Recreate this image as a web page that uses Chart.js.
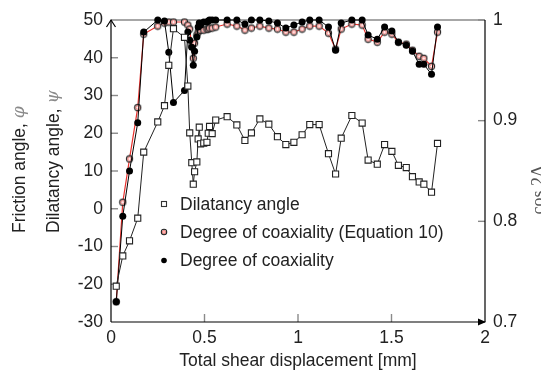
<!DOCTYPE html>
<html>
<head>
<meta charset="UTF-8">
<title>Coaxiality and dilatancy</title>
<script src="https://cdn.jsdelivr.net/npm/chart.js"></script>
<style>
  body { margin: 0; background: #fff; }
</style>
</head>
<body>
<canvas id="chart" width="541" height="372"></canvas>

<script>
    // values
    const displacement = [0.028, 0.063, 0.099, 0.143, 0.175, 0.250, 0.286, 0.309, 0.334, 0.393, 0.411,
        0.421, 0.432, 0.440, 0.447, 0.459, 0.466, 0.472, 0.479, 0.496, 0.513, 0.520, 0.527, 0.541, 0.560,
        0.621, 0.673, 0.716, 0.751, 0.796, 0.844, 0.890, 0.935, 0.978, 1.022, 1.063, 1.113,
        1.163, 1.201, 1.231, 1.288, 1.343, 1.375, 1.424, 1.463, 1.502, 1.537, 1.579, 1.612, 1.648, 1.673, 1.714, 1.746];

    const dilatancy = [-20.5, -12.5, -8.5, -2.5, 15.0, 23.0, 27.3, 38.0, 47.7, 45.4, 32.5,
        20.1, 12.2, 6.5, 9.8, 12.4, 18.5, 21.6, 17.2, 17.4, 17.6, 20.0, 21.8, 19.9, 23.5,
        24.4, 22.2, 18.1, 20.1, 23.8, 22.4, 19.1, 17.0, 17.6, 19.6, 22.3, 22.3,
        14.6, 9.2, 18.7, 24.7, 22.7, 12.9, 11.8, 17.0, 15.2, 11.5, 10.9, 8.5, 7.1, 6.5, 4.4, 17.3];

    const coaxialityEq10 = [0.720, 0.819, 0.862, 0.913, 0.986, 0.994, 0.997, 0.998, 0.998, 0.998, 0.995,
        0.991, 0.974, 0.962, 0.977, 0.985, 0.988, 0.990, 0.990, 0.990, 0.991, 0.991, 0.992, 0.992, 0.993,
        0.996, 0.994, 0.990, 0.992, 0.994, 0.992, 0.991, 0.988, 0.988, 0.991, 0.994, 0.994,
        0.987, 0.971, 0.991, 0.996, 0.995, 0.981, 0.978, 0.988, 0.986, 0.978, 0.976, 0.970, 0.964, 0.962, 0.954, 0.988];

    const coaxiality = [0.720, 0.805, 0.850, 0.898, 0.988, 1.000, 0.999, 0.968, 0.918, 0.930, 0.988,
        0.980, 0.973, 0.955, 0.969, 0.983, 0.993, 0.997, 0.995, 0.998, 0.998, 0.999, 1.000, 1.000, 1.000,
        1.000, 1.000, 0.996, 1.000, 1.000, 0.999, 0.997, 0.992, 0.995, 0.998, 1.000, 1.000,
        0.993, 0.970, 0.997, 1.000, 1.000, 0.985, 0.981, 0.993, 0.989, 0.978, 0.975, 0.969, 0.956, 0.956, 0.946, 0.993];

    const leftTicks = [50, 40, 30, 20, 10, 0, -10, -20, -30];
    const bottomTicks = [0, 0.5, 1, 1.5, 2];
    const rightTicks = [1, 0.9, 0.8, 0.7];
    const legendLabels = ['Dilatancy angle', 'Degree of coaxiality (Equation 10)', 'Degree of coaxiality'];

    const FONT = 'Liberation Sans, Arial, sans-serif';
    const TEXT = '#222';

    function points(ys) {
        return displacement.map((x, i) => ({ x: x, y: ys[i] }));
    }

    // small open circle with a red ring, used for the Equation 10 series
    function ringSprite(r) {
        const c = document.createElement('canvas');
        const s = Math.ceil(r * 2 + 2);
        c.width = s; c.height = s;
        const g = c.getContext('2d');
        g.beginPath();
        g.arc(s / 2, s / 2, r, 0, 2 * Math.PI);
        g.fillStyle = '#fff';
        g.fill();
        g.lineWidth = 1.1;
        g.strokeStyle = '#222';
        g.stroke();
        g.beginPath();
        g.arc(s / 2, s / 2, r - 1.3, 0, 2 * Math.PI);
        g.lineWidth = 0.8;
        g.strokeStyle = '#f03a33';
        g.stroke();
        return c;
    }
    const ring = ringSprite(3.1);
    const ringSmall = ringSprite(2.7);

    function line(ctx, x1, y1, x2, y2) {
        ctx.beginPath();
        ctx.moveTo(x1, y1);
        ctx.lineTo(x2, y2);
        ctx.stroke();
    }

    // axis lines, arrows and inward ticks
    const axesPlugin = {
        id: 'axes',
        beforeDatasetsDraw(chart) {
            const ctx = chart.ctx;
            const a = chart.chartArea;
            const sx = chart.scales.x, sy = chart.scales.y, sy1 = chart.scales.y1;
            ctx.save();
            // top border
            ctx.strokeStyle = '#8a8a8a';
            ctx.lineWidth = 1.6;
            line(ctx, a.left, a.top, a.right, a.top);
            // ticks
            ctx.lineWidth = 1.4;
            leftTicks.slice(1, -1).forEach(v => {
                const y = sy.getPixelForValue(v);
                line(ctx, a.left, y, a.left + 7, y);
            });
            bottomTicks.slice(1, -1).forEach(v => {
                const x = sx.getPixelForValue(v);
                line(ctx, x, a.bottom, x, a.bottom - 8);
            });
            rightTicks.slice(0, -1).forEach(v => {
                const y = sy1.getPixelForValue(v);
                line(ctx, a.right, y, a.right - 7, y);
            });
            // axis lines
            ctx.strokeStyle = '#000';
            ctx.lineWidth = 1.2;
            line(ctx, a.left, a.bottom, a.left, a.top);
            line(ctx, a.left, a.bottom, a.right, a.bottom);
            line(ctx, a.right, a.top, a.right, a.bottom);
            // arrow up on the left axis
            ctx.beginPath();
            ctx.moveTo(a.left - 4.5, a.top + 7);
            ctx.lineTo(a.left, a.top);
            ctx.lineTo(a.left + 4.5, a.top + 7);
            ctx.stroke();
            // arrow right on the bottom axis
            ctx.fillStyle = '#000';
            ctx.beginPath();
            ctx.moveTo(a.right + 1, a.bottom);
            ctx.lineTo(a.right - 7, a.bottom - 3.5);
            ctx.lineTo(a.right - 7, a.bottom + 3.5);
            ctx.closePath();
            ctx.fill();
            ctx.restore();
        },
        afterDraw(chart) {
            const ctx = chart.ctx;
            ctx.save();
            // left axis titles
            ctx.textBaseline = 'middle';
            ctx.textAlign = 'left';
            [['Friction angle, ', '\u03c6', 20], ['Dilatancy angle, ', '\u03c8', 54]].forEach(t => {
                ctx.save();
                ctx.translate(t[2], 233);
                ctx.rotate(-Math.PI / 2);
                ctx.font = '17.5px ' + FONT;
                ctx.fillStyle = TEXT;
                ctx.fillText(t[0], 0, 0);
                const w = ctx.measureText(t[0]).width;
                ctx.font = 'italic 17px DejaVu Serif, serif';
                ctx.fillStyle = '#8a8a8a';
                ctx.fillText(t[1], w, 0);
                ctx.restore();
            });
            // right axis title, cut by the page edge
            ctx.save();
            ctx.translate(539, 190);
            ctx.rotate(-Math.PI / 2);
            ctx.textAlign = 'center';
            ctx.font = '18px Liberation Serif, serif';
            ctx.fillStyle = '#555';
            ctx.fillText('cos 2\u0394', 0, 0);
            ctx.restore();

            // legend
            const rows = [204, 232, 260.5];
            const mx = 164, tx = 180;
            ctx.font = '17.5px ' + FONT;
            ctx.fillStyle = TEXT;
            ctx.textAlign = 'left';
            legendLabels.forEach((label, i) => ctx.fillText(label, tx, rows[i] + 1));
            // square
            ctx.fillStyle = '#fff';
            ctx.strokeStyle = '#333';
            ctx.lineWidth = 1.1;
            ctx.fillRect(mx - 2.5, rows[0] - 2.5, 5, 5);
            ctx.strokeRect(mx - 2.5, rows[0] - 2.5, 5, 5);
            // ring
            ctx.drawImage(ringSmall, mx - ringSmall.width / 2, rows[1] - ringSmall.height / 2);
            // dot
            ctx.fillStyle = '#000';
            ctx.beginPath();
            ctx.arc(mx, rows[2], 2.8, 0, 2 * Math.PI);
            ctx.fill();
            ctx.restore();
        }
    };

    const ctx = document.getElementById('chart').getContext('2d');
    new Chart(ctx, {
        type: 'line',
        data: {
            datasets: [{
                label: legendLabels[0],
                data: points(dilatancy),
                yAxisID: 'y',
                order: 0,
                borderColor: '#222',
                borderWidth: 1,
                pointStyle: 'rect',
                pointRadius: 4.3,
                pointBackgroundColor: '#fff',
                pointBorderColor: '#222',
                pointBorderWidth: 1.1,
                clip: false
            }, {
                label: legendLabels[1],
                data: points(coaxialityEq10),
                yAxisID: 'y1',
                order: 2,
                borderColor: '#e8302c',
                borderWidth: 1.2,
                pointStyle: ring,
                pointRadius: 3.1,
                clip: false
            }, {
                label: legendLabels[2],
                data: points(coaxiality),
                yAxisID: 'y1',
                order: 1,
                borderColor: '#000',
                borderWidth: 1,
                pointStyle: 'circle',
                pointRadius: 3.5,
                pointBackgroundColor: '#000',
                pointBorderColor: '#000',
                pointBorderWidth: 0,
                clip: false
            }]
        },
        options: {
            responsive: false,
            animation: false,
            devicePixelRatio: 1,
            layout: { padding: { top: 20, left: 0, right: 0, bottom: 0 } },
            plugins: { legend: { display: false }, tooltip: { enabled: false } },
            elements: { line: { tension: 0 } },
            scales: {
                x: {
                    type: 'linear',
                    min: 0, max: 2,
                    afterBuildTicks: s => { s.ticks = bottomTicks.map(v => ({ value: v })); },
                    afterFit: s => { s.height = 50; },
                    grid: { display: false, drawTicks: false },
                    border: { display: false },
                    ticks: { padding: 6, color: TEXT, font: { family: FONT, size: 17.5 }, maxRotation: 0,
                        callback: v => String(v) },
                    title: { display: true, text: 'Total shear displacement [mm]', color: TEXT,
                        font: { family: FONT, size: 17.5 }, padding: 0 }
                },
                y: {
                    position: 'left',
                    min: -30, max: 50,
                    afterBuildTicks: s => { s.ticks = leftTicks.map(v => ({ value: v })); },
                    afterFit: s => { s.width = 111; },
                    grid: { display: false, drawTicks: false },
                    border: { display: false },
                    ticks: { padding: 8, color: TEXT, font: { family: FONT, size: 17.5 },
                        callback: v => String(v) }
                },
                y1: {
                    position: 'right',
                    min: 0.7, max: 1,
                    afterBuildTicks: s => { s.ticks = rightTicks.map(v => ({ value: v })); },
                    afterFit: s => { s.width = 56; },
                    grid: { display: false, drawTicks: false },
                    border: { display: false },
                    ticks: { padding: 8, color: TEXT, font: { family: FONT, size: 17.5 },
                        callback: v => String(v) }
                }
            }
        },
        plugins: [axesPlugin]
    });
</script>
</body>
</html>
